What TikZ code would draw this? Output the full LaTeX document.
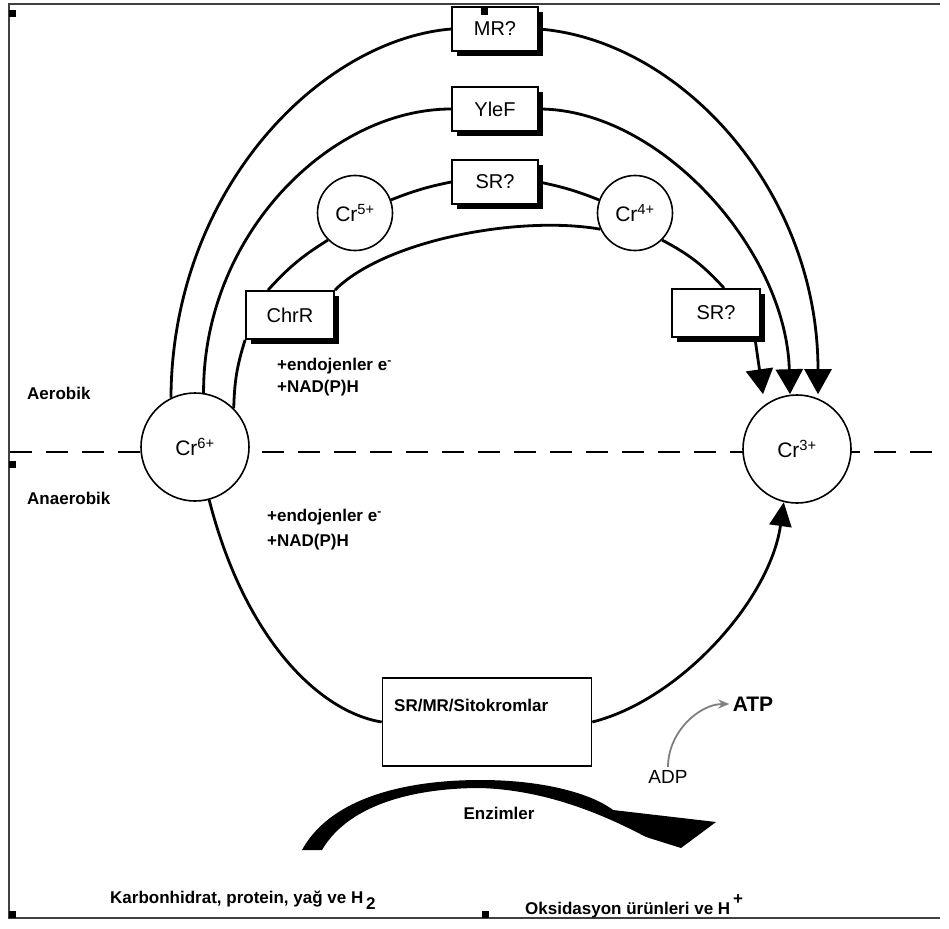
\documentclass[tikz,border=0pt]{standalone}
\usepackage{fontspec}
\setmainfont{Liberation Sans}
\usetikzlibrary{arrows.meta, shadows, backgrounds}

\begin{document}
\begin{tikzpicture}[
    x=1pt, y=-1pt,
    box/.style={rectangle, draw, line width=1.8pt, fill=white, minimum width=86pt, minimum height=44pt, font=\fontsize{20}{22}\selectfont, drop shadow={fill=black, opacity=1, shadow xshift=5pt, shadow yshift=-5pt}},
    ion/.style={circle, draw, line width=1.6pt, fill=white, inner sep=0pt, font=\fontsize{21}{23}\selectfont},
    lbl/.style={font=\fontsize{17}{21}\selectfont\bfseries, inner sep=0pt},
    link/.style={line width=2.8pt},
    arrow/.style={link, -{Triangle[width=27pt,length=25pt]}}
]
\useasboundingbox (0,0) rectangle (949,928);
\draw[line width=1.8pt, black!75] (940,4) -- (9,4) -- (9,918) -- (940,918);
\draw[line width=2.4pt, dash pattern=on 22pt off 14pt] (10,452) -- (940,452);

\node[ion, minimum size=108pt] (cr6) at (195,447) {Cr\textsuperscript{6+}};
\node[ion, minimum size=108pt] (cr3) at (797,449) {Cr\textsuperscript{3+}};
\node[ion, minimum size=75pt] (cr5) at (355,213) {Cr\textsuperscript{5+}};
\node[ion, minimum size=75pt] (cr4) at (635,213) {Cr\textsuperscript{4+}};
\node[box] (mr) at (495,29) {MR?};
\node[box] (ylef) at (495,109) {YleF};
\node[box] (srtop) at (495,182) {SR?};
\node[box, minimum width=88pt, minimum height=48pt] (chrr) at (290,315) {ChrR};
\node[box, minimum width=88pt, minimum height=48pt] (srright) at (716,313) {SR?};
\node[draw, line width=1.6pt, fill=white, minimum width=209pt, minimum height=88pt] (sito) at (487,722) {};

\node[lbl, anchor=west] (aer) at (27,393) {Aerobik};
\node[lbl, anchor=west] (anaer) at (27,498) {Anaerobik};
\node[lbl, anchor=west, align=left] (endo1) at (277,377) {+endojenler e\textsuperscript{-}\\[1pt]+NAD(P)H};
\node[lbl, anchor=west, align=left] (endo2) at (267,530) {+endojenler e\textsuperscript{-}\\[4pt]+NAD(P)H};
\node[lbl, anchor=west] (sitotxt) at (394,706) {SR/MR/Sitokromlar};
\node[font=\fontsize{21}{24}\selectfont\bfseries] (atp) at (753,704) {ATP};
\node[font=\fontsize{19}{22}\selectfont] (adp) at (668,777) {ADP};
\node[lbl] (enz) at (499,813) {Enzimler};
\node[lbl, anchor=base west] (karb) at (110,903) {Karbonhidrat, protein, yağ ve H\,\raisebox{-6pt}{2}};
\node[lbl, anchor=base west] (oks) at (525,914) {Oksidasyon ürünleri ve H\,\raisebox{10pt}{+}};

\foreach \p in {(12,14),(12,464),(12,914),(485,914),(484,12)}
    \fill \p +(-3.5,-3.5) rectangle +(3.5,3.5);

\begin{scope}[on background layer]
\draw[link] (cr6.116) .. controls (172,190) and (320,40) .. (mr.west);
\draw[arrow] (mr.east) .. controls (680,40) and (818,190) .. ([xshift=21pt]cr3.north);
\draw[link] (cr6.81) .. controls (203,235) and (330,109) .. (ylef.west);
\draw[arrow] (ylef.east) .. controls (660,109) and (786,250) .. ([xshift=-7pt]cr3.north);
\draw[link] (cr6.45) to[bend left=8] (chrr.south west);
\draw[link] ([xshift=-22pt]chrr.north) to[bend left=8] (cr5.225);
\draw[link] (cr5.20) to[bend left=5] (srtop.west);
\draw[link] (srtop.east) to[bend left=5] (cr4.160);
\draw[link] (chrr.north east) .. controls (385,240) and (520,215) .. (cr4.205);
\draw[link] (cr4.315) to[bend left=10] ([xshift=8pt]srright.north);
\draw[arrow] ([xshift=-6pt]srright.south east) -- ([xshift=-34pt]cr3.north);
\draw[link] (cr6.285) .. controls (245,640) and (320,712) .. (sito.west);
\draw[link, -{Triangle[width=22pt,length=24pt]}] (sito.east) .. controls (680,700) and (770,600) .. (cr3.256);
\end{scope}

\draw[gray, line width=1.8pt, -{Stealth[length=11pt,width=9pt]}] (adp.north) .. controls +(0,-35) and +(-30,0) .. (atp.west);
\fill (302,850) .. controls (335,790) and (425,780) .. (480,780) .. controls (550,780) and (595,796) .. (613,810) -- (716,822) -- (681,848) -- (646,837) .. controls (610,818) and (550,790) .. (480,788) .. controls (420,788) and (350,802) .. (322,850) -- cycle;
\end{tikzpicture}
\end{document}
